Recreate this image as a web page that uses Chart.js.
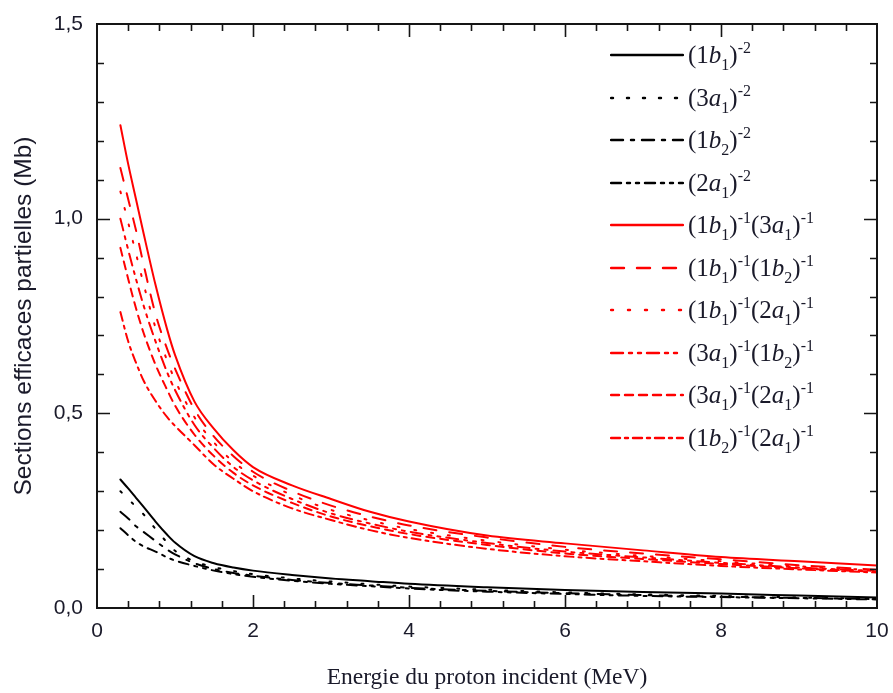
<!DOCTYPE html>
<html>
<head>
  <meta charset="UTF-8">
  <title>Sections efficaces partielles</title>
  <script src="https://cdn.jsdelivr.net/npm/chart.js"></script>
  <style>
    body {
      margin: 0;
      background: #fff;
    }
    #wrap {
      position: relative;
      width: 893px;
      height: 693px;
    }
    #legend {
      position: absolute;
      left: 0;
      top: 0;
      font-family: "Liberation Serif", "DejaVu Serif", serif;
      font-size: 25px;
      color: #1a1a2a;
    }
    .row {
      position: absolute;
      left: 610px;
      height: 40px;
      display: flex;
      align-items: center;
      white-space: nowrap;
    }
    .row svg {
      width: 74px;
      height: 10px;
      margin-right: 4px;
    }
    .row sub, .row sup {
      font-size: 0.64em;
      vertical-align: baseline;
      position: relative;
    }
    .row sub { top: 0.42em; }
    .row sup { top: -0.62em; }
  </style>
</head>
<body>
  <div id="wrap">
    <canvas id="chart" width="893" height="693"></canvas>
    <div id="legend"></div>
  </div>

  <script>
  // proton energy (MeV)
  const energies = [0.3, 0.4, 0.5, 0.6, 0.75, 0.9, 1, 1.25, 1.5, 1.75, 2, 2.5, 3, 3.5, 4, 5, 6, 7, 8, 9, 10];

  // double ionisation cross sections (Mb)
  const b1b1 = [0.33, 0.307, 0.283, 0.259, 0.222, 0.188, 0.168, 0.133, 0.115, 0.104, 0.096, 0.085, 0.076, 0.069, 0.062, 0.053, 0.046, 0.041, 0.037, 0.032, 0.027];
  const a3a3 = [0.30, 0.28, 0.26, 0.24, 0.203, 0.168, 0.147, 0.12, 0.105, 0.095, 0.087, 0.076, 0.068, 0.061, 0.055, 0.047, 0.040, 0.035, 0.031, 0.027, 0.024];
  const b2b2 = [0.247, 0.23, 0.21, 0.195, 0.172, 0.15, 0.138, 0.115, 0.10, 0.09, 0.083, 0.072, 0.064, 0.058, 0.052, 0.044, 0.038, 0.033, 0.029, 0.026, 0.023];
  const a2a2 = [0.205, 0.187, 0.170, 0.158, 0.145, 0.13, 0.122, 0.108, 0.096, 0.087, 0.080, 0.070, 0.062, 0.056, 0.050, 0.042, 0.036, 0.031, 0.028, 0.025, 0.022];
  const b1a3 = [1.24, 1.14, 1.05, 0.96, 0.83, 0.715, 0.65, 0.53, 0.46, 0.405, 0.362, 0.315, 0.28, 0.247, 0.222, 0.186, 0.166, 0.148, 0.131, 0.12, 0.109];
  const b1b2 = [1.13, 1.05, 0.97, 0.88, 0.755, 0.665, 0.615, 0.51, 0.44, 0.39, 0.35, 0.30, 0.263, 0.235, 0.212, 0.181, 0.157, 0.14, 0.125, 0.11, 0.098];
  const b1a2 = [1.07, 0.99, 0.91, 0.83, 0.72, 0.635, 0.585, 0.49, 0.425, 0.375, 0.34, 0.29, 0.252, 0.225, 0.203, 0.173, 0.15, 0.134, 0.12, 0.107, 0.097];
  const a3b2 = [1.0, 0.92, 0.845, 0.775, 0.685, 0.605, 0.56, 0.47, 0.41, 0.362, 0.328, 0.28, 0.243, 0.217, 0.196, 0.167, 0.145, 0.13, 0.116, 0.104, 0.095];
  const a3a2 = [0.925, 0.845, 0.77, 0.705, 0.625, 0.56, 0.52, 0.445, 0.39, 0.347, 0.315, 0.27, 0.235, 0.21, 0.19, 0.162, 0.14, 0.126, 0.113, 0.102, 0.093];
  const b2a2 = [0.76, 0.685, 0.63, 0.583, 0.532, 0.49, 0.468, 0.418, 0.368, 0.332, 0.30, 0.256, 0.226, 0.20, 0.18, 0.152, 0.133, 0.12, 0.108, 0.099, 0.091];

  const legendLabels = [
    '(1<i>b</i><sub>1</sub>)<sup>-2</sup>',
    '(3<i>a</i><sub>1</sub>)<sup>-2</sup>',
    '(1<i>b</i><sub>2</sub>)<sup>-2</sup>',
    '(2<i>a</i><sub>1</sub>)<sup>-2</sup>',
    '(1<i>b</i><sub>1</sub>)<sup>-1</sup>(3<i>a</i><sub>1</sub>)<sup>-1</sup>',
    '(1<i>b</i><sub>1</sub>)<sup>-1</sup>(1<i>b</i><sub>2</sub>)<sup>-1</sup>',
    '(1<i>b</i><sub>1</sub>)<sup>-1</sup>(2<i>a</i><sub>1</sub>)<sup>-1</sup>',
    '(3<i>a</i><sub>1</sub>)<sup>-1</sup>(1<i>b</i><sub>2</sub>)<sup>-1</sup>',
    '(3<i>a</i><sub>1</sub>)<sup>-1</sup>(2<i>a</i><sub>1</sub>)<sup>-1</sup>',
    '(1<i>b</i><sub>2</sub>)<sup>-1</sup>(2<i>a</i><sub>1</sub>)<sup>-1</sup>'
  ];

  // line look of each curve: colour, dash pattern
  const series = [
    { data: b1b1, color: '#000', dash: [] },
    { data: a3a3, color: '#000', dash: [2, 14] },
    { data: b2b2, color: '#000', dash: [12, 8, 3, 8] },
    { data: a2a2, color: '#000', dash: [10, 6, 3, 6, 3, 6] },
    { data: b1a3, color: '#ff0000', dash: [] },
    { data: b1b2, color: '#ff0000', dash: [13, 13] },
    { data: b1a2, color: '#ff0000', dash: [2, 15] },
    { data: a3b2, color: '#ff0000', dash: [12, 6, 3, 6, 3, 6] },
    { data: a3a2, color: '#ff0000', dash: [8, 6] },
    { data: b2a2, color: '#ff0000', dash: [9, 5, 3, 5] }
  ];

  // frame with inward ticks on all four sides
  const frameTicks = {
    id: 'frameTicks',
    afterDatasetsDraw(chart) {
      const { ctx, chartArea: a, scales: { x, y } } = chart;
      ctx.save();
      ctx.strokeStyle = '#151515';
      ctx.lineWidth = 1.6;
      ctx.beginPath();
      for (let i = 1; i < 25; i++) {
        const px = Math.round(x.getPixelForValue(i * 0.4)) + 0.5;
        const len = i % 5 === 0 ? 13 : 7;
        ctx.moveTo(px, a.bottom); ctx.lineTo(px, a.bottom - len);
        ctx.moveTo(px, a.top); ctx.lineTo(px, a.top + len);
      }
      for (let i = 1; i < 15; i++) {
        const py = Math.round(y.getPixelForValue(i * 0.1)) + 0.5;
        const len = i % 5 === 0 ? 13 : 7;
        ctx.moveTo(a.left, py); ctx.lineTo(a.left + len, py);
        ctx.moveTo(a.right, py); ctx.lineTo(a.right - len, py);
      }
      ctx.stroke();
      ctx.lineWidth = 2;
      ctx.strokeRect(a.left, a.top, a.right - a.left, a.bottom - a.top);
      ctx.restore();
    }
  };

  const chart = new Chart(document.getElementById('chart'), {
    type: 'line',
    data: {
      datasets: series.map((s, i) => ({
        label: legendLabels[i],
        data: energies.map((e, k) => ({ x: e, y: s.data[k] })),
        borderColor: s.color,
        borderWidth: 2,
        borderDash: s.dash,
        borderCapStyle: 'round',
        pointRadius: 0,
        cubicInterpolationMode: 'monotone',
        fill: false
      }))
    },
    options: {
      responsive: false,
      animation: false,
      layout: { padding: { top: 24, right: 16, left: 0, bottom: 0 } },
      plugins: { legend: { display: false }, tooltip: { enabled: false } },
      scales: {
        x: {
          type: 'linear',
          min: 0,
          max: 10,
          grid: { display: false },
          border: { display: false },
          ticks: {
            stepSize: 2,
            padding: 3,
            color: '#1a1a2a',
            font: { family: 'Liberation Sans', size: 21 },
            maxRotation: 0
          },
          title: {
            display: true,
            text: 'Energie du proton incident (MeV)',
            color: '#1a1a2a',
            font: { family: 'Liberation Serif', size: 23.5, lineHeight: 1 },
            padding: { top: 0, bottom: 3 }
          },
          afterFit(s) { s.height = 85; }
        },
        y: {
          min: 0,
          max: 1.5,
          grid: { display: false },
          border: { display: false },
          ticks: {
            stepSize: 0.5,
            padding: 6,
            color: '#1a1a2a',
            font: { family: 'Liberation Sans', size: 21 },
            callback: v => v.toFixed(1).replace('.', ',')
          },
          title: {
            display: true,
            text: 'Sections efficaces partielles (Mb)',
            color: '#1a1a2a',
            font: { family: 'Liberation Sans', size: 24.5, lineHeight: 1 },
            padding: { top: 12, bottom: 0 }
          },
          afterFit(s) { s.width = 97; }
        }
      }
    },
    plugins: [frameTicks]
  });

  // legend in HTML so the sub/superscripts stay real text
  const legend = document.getElementById('legend');
  const rowY = [55, 98, 140, 183, 225, 268, 310, 353, 395, 438];
  series.forEach((s, i) => {
    const row = document.createElement('div');
    row.className = 'row';
    row.style.top = (rowY[i] - 20) + 'px';
    row.innerHTML =
      '<svg viewBox="0 0 74 10"><line x1="1" y1="5" x2="73" y2="5" stroke="' + s.color +
      '" stroke-width="2.4" stroke-linecap="round" stroke-dasharray="' + (s.dash.length ? s.dash.join(' ') : 'none') +
      '"/></svg><span>' + legendLabels[i] + '</span>';
    legend.appendChild(row);
  });
  </script>
</body>
</html>
